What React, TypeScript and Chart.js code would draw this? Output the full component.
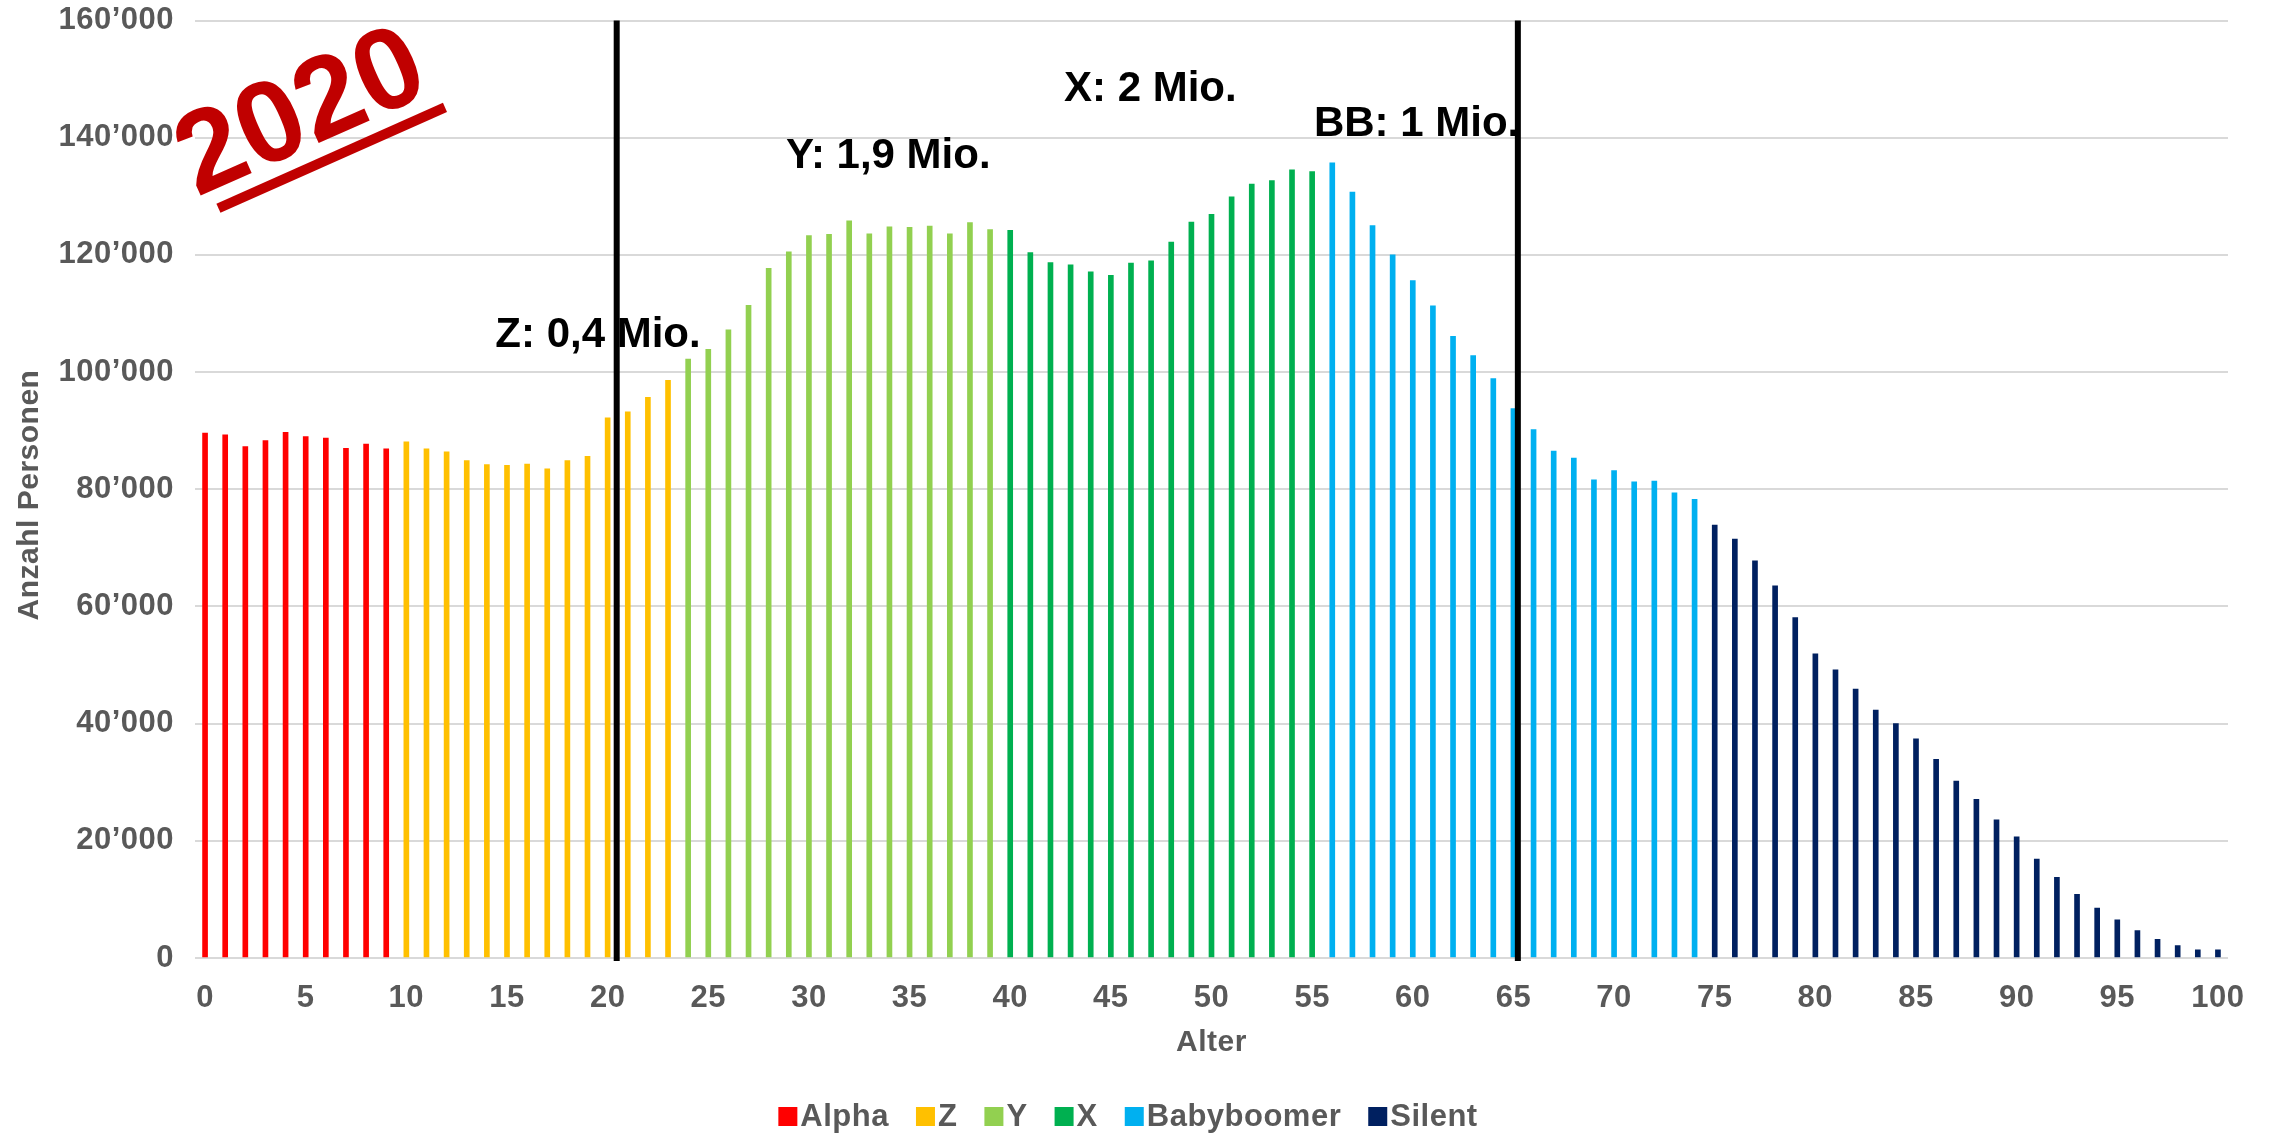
import React, { useEffect, useRef } from "react";
import { Chart, registerables } from "chart.js";

Chart.register(...registerables);

// ---------- data ----------
const FIRST_AGE = 0;
const LAST_AGE = 100;
const ageLabels: string[] = [];
for (let a = FIRST_AGE; a <= LAST_AGE; a++) ageLabels.push(String(a));

const generationNames = ["Alpha", "Z", "Y", "X", "Babyboomer", "Silent"];
const generationColors = ["#FF0000", "#FFC000", "#92D050", "#00B050", "#00B0F0", "#002060"];
const generationFirstAge = [0, 10, 24, 40, 56, 75];

// persons per age (ages 0-9)
const alphaValues = [89600, 89300, 87300, 88300, 89700, 89000, 88750, 87000, 87700, 86900];
// ages 10-23
const zValues = [88100, 86900, 86400, 84900, 84200, 84100, 84300, 83500, 84900, 85600, 92200, 93200, 95700, 98600];
// ages 24-39
const yValues = [102200, 103900, 107200, 111400, 117700, 120500, 123300, 123500, 125800, 123600, 124800, 124700, 124900, 123600, 125500, 124300];
// ages 40-55
const xValues = [124200, 120400, 118700, 118300, 117100, 116500, 118600, 119000, 122200, 125600, 126900, 129900, 132100, 132700, 134500, 134200];
// ages 56-74
const boomerValues = [135700, 130700, 125000, 120000, 115600, 111300, 106100, 102800, 98900, 93750, 90200, 86500, 85300, 81600, 83200, 81250, 81400, 79400, 78300];
// ages 75-100
const silentValues = [73900, 71500, 67800, 63500, 58100, 51900, 49200, 45900, 42300, 40000, 37400, 33900, 30200, 27100, 23600, 20700, 16900, 13750, 10850, 8500, 6500, 4700, 3200, 2100, 1400, 1400];

const generationValues = [alphaValues, zValues, yValues, xValues, boomerValues, silentValues];

const Y_MIN = 0;
const Y_MAX = 160000;
const Y_STEP = 20000;

const annotationTexts = ["Z: 0,4 Mio.", "Y: 1,9 Mio.", "X: 2 Mio.", "BB: 1 Mio."];
const annotationAges = [14.42, 28.86, 42.67, 55.09];
const annotationValues = [104300, 134800, 146300, 140300];
const dividerAges = [20.45, 65.22];

const stampText = "2020";
const xTitle = "Alter";
const yTitle = "Anzahl Personen";

// ---------- styles ----------
const FONT = '"Liberation Sans", Arial, Helvetica, sans-serif';
const GRAY = "#595959";

function formatThousands(v: number): string {
  if (v === 0) return "0";
  const k = Math.floor(v / 1000);
  const r = Math.round(v % 1000);
  return `${k}\u2019${String(r).padStart(3, "0")}`;
}

const decorPlugin = {
  id: "decor",
  beforeDraw(chart: any) {
    (chart.ctx as any).letterSpacing = "0.5px";
  },
  afterDatasetsDraw(chart: any) {
    const { ctx, scales } = chart;
    const x = scales.x;
    const y = scales.y;
    const step = x.getPixelForValue(1) - x.getPixelForValue(0);
    const ageToPx = (a: number) => x.getPixelForValue(0) + a * step;
    ctx.save();
    (ctx as any).letterSpacing = "0px";
    // annotation texts
    ctx.font = `bold 42px ${FONT}`;
    ctx.fillStyle = "#000000";
    ctx.textAlign = "left";
    ctx.textBaseline = "alphabetic";
    annotationTexts.forEach((t, i) => {
      ctx.fillText(t, ageToPx(annotationAges[i]), y.getPixelForValue(annotationValues[i]));
    });
    // divider lines
    ctx.strokeStyle = "#000000";
    ctx.lineWidth = 6;
    dividerAges.forEach((a) => {
      const px = ageToPx(a);
      ctx.beginPath();
      ctx.moveTo(px, y.getPixelForValue(Y_MAX));
      ctx.lineTo(px, y.getPixelForValue(Y_MIN) + 3);
      ctx.stroke();
    });
    // 2020 stamp
    ctx.translate(211.7, 190.7);
    ctx.rotate((-24 * Math.PI) / 180);
    ctx.fillStyle = "#C00000";
    ctx.font = `bold 116px ${FONT}`;
    ctx.fillText(stampText, -16, 0);
    ctx.fillRect(-1, 13.8, 248, 10);
    ctx.restore();
  },
  afterDraw(chart: any) {
    const { ctx, chartArea } = chart;
    ctx.save();
    (ctx as any).letterSpacing = "0.5px";
    ctx.fillStyle = GRAY;
    // axis titles
    ctx.font = `bold 30px ${FONT}`;
    ctx.textAlign = "center";
    ctx.textBaseline = "alphabetic";
    ctx.fillText(xTitle, (chartArea.left + chartArea.right) / 2, 1051);
    ctx.save();
    ctx.translate(30, 495);
    ctx.rotate(-Math.PI / 2);
    ctx.textBaseline = "middle";
    ctx.fillText(yTitle, 0, 0);
    ctx.restore();
    // legend
    ctx.font = `bold 31px ${FONT}`;
    ctx.textAlign = "left";
    ctx.textBaseline = "alphabetic";
    const box = 19;
    const boxGap = 3;
    const itemGap = 27;
    const widths = generationNames.map((n) => ctx.measureText(n).width);
    const total = widths.reduce((s, w) => s + w + box + boxGap, 0) + itemGap * (generationNames.length - 1);
    let cx = 1128 - total / 2;
    const base = 1126;
    generationNames.forEach((n, i) => {
      ctx.fillStyle = generationColors[i];
      ctx.fillRect(cx, base - box, box, box);
      ctx.fillStyle = GRAY;
      ctx.fillText(n, cx + box + boxGap, base);
      cx += box + boxGap + widths[i] + itemGap;
    });
    ctx.restore();
    (ctx as any).letterSpacing = "0px";
  },
};

export default function App() {
  const canvasRef = useRef<HTMLCanvasElement | null>(null);

  useEffect(() => {
    document.body.style.margin = "0";
    document.body.style.overflow = "hidden";
    const canvas = canvasRef.current;
    if (!canvas) return;

    const datasets = generationNames.map((name, g) => {
      const first = generationFirstAge[g];
      const vals = generationValues[g];
      const data = ageLabels.map((_, i) => {
        const k = i - (first - FIRST_AGE);
        return k >= 0 && k < vals.length ? vals[k] : null;
      });
      return {
        label: name,
        data,
        backgroundColor: generationColors[g],
        borderWidth: 0,
        barThickness: 5,
        grouped: false,
      };
    });

    const chart = new Chart(canvas, {
      type: "bar",
      data: { labels: ageLabels, datasets: datasets as any },
      options: {
        animation: false,
        responsive: false,
        devicePixelRatio: 1,
        layout: { padding: { left: 0, right: 42, top: 20.5, bottom: 77 } },
        plugins: {
          legend: { display: false },
          tooltip: { enabled: false },
        },
        scales: {
          x: {
            type: "category",
            offset: true,
            grid: { display: false, drawTicks: false },
            border: { display: false },
            ticks: {
              autoSkip: false,
              maxRotation: 0,
              minRotation: 0,
              padding: 22,
              color: GRAY,
              font: { family: FONT, size: 31, weight: "bold" },
              callback: (_v: any, i: number) => (i % 5 === 0 ? ageLabels[i] : ""),
            },
            afterFit: (s: any) => {
              s.height = 100;
              s.paddingLeft = 0;
              s.paddingRight = 0;
            },
          },
          y: {
            min: Y_MIN,
            max: Y_MAX,
            grid: { color: "#D9D9D9", lineWidth: 2, drawTicks: false },
            border: { display: false },
            ticks: {
              stepSize: Y_STEP,
              padding: 21,
              color: GRAY,
              font: { family: FONT, size: 31, weight: "bold" },
              callback: (v: any) => formatThousands(Number(v)),
            },
            afterFit: (s: any) => {
              s.width = 195;
              s.paddingTop = 0;
              s.paddingBottom = 0;
            },
          },
        },
      } as any,
      plugins: [decorPlugin as any],
    });

    return () => chart.destroy();
  }, []);

  return (
    <div style={{ width: 2270, height: 1135, background: "#ffffff" }}>
      <canvas ref={canvasRef} width={2270} height={1135} style={{ display: "block", width: 2270, height: 1135 }} />
    </div>
  );
}
